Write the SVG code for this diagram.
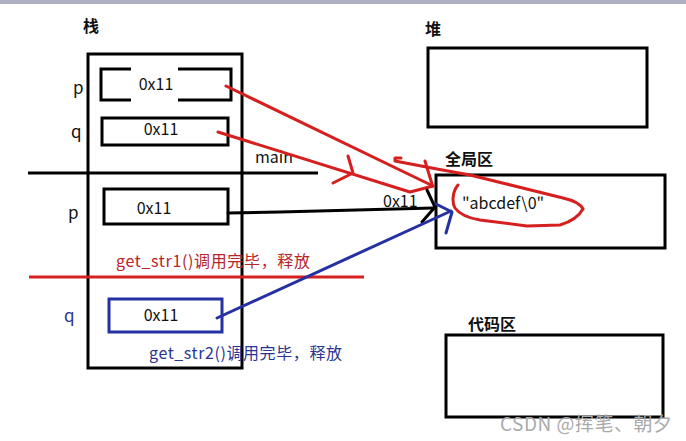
<svg xmlns="http://www.w3.org/2000/svg" width="686" height="441" viewBox="0 0 686 441">
<style>
.box{fill:none;stroke:#000;stroke-width:3}
.t{font-family:"Noto Sans CJK SC","Noto Sans",sans-serif;font-size:16px;fill:#111}
.h{font-family:"Noto Sans CJK SC",sans-serif;font-size:16px;font-weight:bold;fill:#111}
.red{fill:none;stroke:#d61f1f;stroke-width:3;stroke-linecap:round;stroke-linejoin:round}
.blue{fill:none;stroke:#2531a3;stroke-width:3;stroke-linecap:round;stroke-linejoin:round}
.blk{fill:none;stroke:#000;stroke-width:3;stroke-linecap:round}
</style>
<rect width="686" height="441" fill="#fff"/>
<rect width="686" height="4" fill="#aeb0c2"/>

<g id="stack">
<text class="h" x="83" y="32">栈</text>
<rect class="box" x="88" y="54" width="154" height="314"/>
</g>
<g id="main-line">
<line x1="28" y1="173" x2="318" y2="173" stroke="#000" stroke-width="3"/>
<text class="t" x="255" y="163">main</text>
</g>
<g id="p1">
<text class="t" x="73" y="94" style="font-size:17px">p</text>
<rect class="box" x="101" y="69" width="130" height="31"/>
<rect x="131" y="66" width="47" height="37" fill="#fff"/>
<text class="t" x="156" y="90" text-anchor="middle">0x11</text>
</g>
<g id="q1">
<text class="t" x="71" y="138" style="font-size:17px">q</text>
<rect class="box" x="102" y="118" width="126" height="27"/>
<text class="t" x="161" y="135" text-anchor="middle">0x11</text>
</g>
<g id="p2">
<text class="t" x="68" y="219" style="font-size:17px">p</text>
<rect class="box" x="104" y="189" width="124" height="35"/>
<text class="t" x="154" y="214" text-anchor="middle">0x11</text>
</g>
<g id="release1">
<line x1="29" y1="277" x2="364" y2="277" stroke="#d61f1f" stroke-width="3"/>
<text class="t" x="116" y="267" style="fill:#b8242a" textLength="194">get_str1()调用完毕，释放</text>
</g>
<g id="q2">
<text class="t" x="64" y="322" style="fill:#2b3590;font-size:17px">q</text>
<rect x="109" y="299" width="113" height="33" fill="none" stroke="#2531a3" stroke-width="3"/>
<text class="t" x="161" y="321" text-anchor="middle">0x11</text>
</g>
<g id="release2">
<text class="t" x="149" y="359" style="fill:#2b3590" textLength="193">get_str2()调用完毕，释放</text>
</g>

<g id="heap">
<text class="h" x="425" y="35">堆</text>
<rect class="box" x="428" y="48" width="219" height="79"/>
</g>
<g id="global">
<text class="h" x="445" y="165">全局区</text>
<rect class="box" x="436" y="175" width="229" height="73"/>
<text class="t" x="462" y="209">"abcdef\0"</text>
</g>
<g id="code">
<text class="h" x="468" y="330">代码区</text>
<rect class="box" x="446" y="335" width="217" height="82"/>
</g>

<g id="connectors">
<path class="red" d="M226,86 L433,186"/>
<path class="red" d="M218,132 L410,192 L433,186"/>
<path class="red" d="M348,156 L353,173 L333,183"/>
<path class="red" d="M425,161 L432,184"/>
<path class="red" d="M458,185 C452,192 452,203 455,208 C460,215 468,218 480,220 L527,226 L560,225 C570,222 578,218 583,209 C580,203 572,200 563,198 L470,175 L437,169 L395,161 L395,158 L401,158"/>
<path class="blk" d="M228,213 L280,212 L433,208"/>
<path class="blk" d="M427,190 L435,207 L422,222"/>
<text class="t" x="383" y="207">0x11</text>
<path class="blue" d="M217,318 L451,211"/>
<path class="blue" d="M436,204 L452,212 L446,233"/>
</g>

<text x="500" y="431" font-family="Noto Sans CJK SC, sans-serif" font-size="19" fill="#aaaaaa" textLength="172">CSDN @挥笔、朝夕</text>
</svg>
